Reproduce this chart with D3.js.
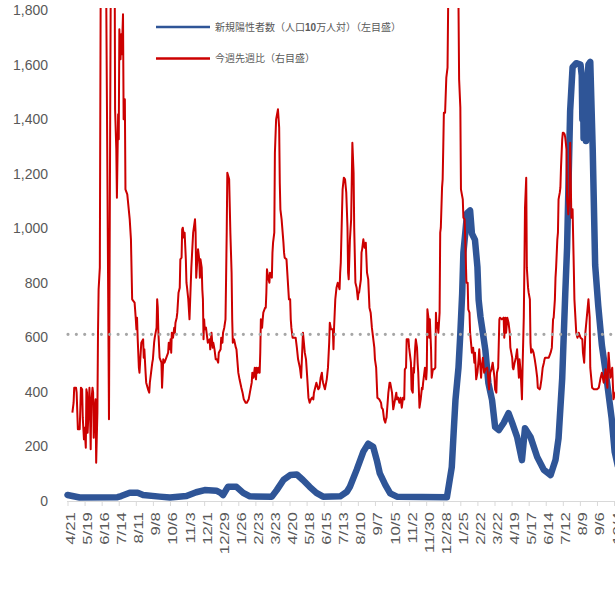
<!DOCTYPE html>
<html>
<head>
<meta charset="utf-8">
<script src="https://cdn.jsdelivr.net/npm/d3@7"></script>
<style>
  body { margin: 0; background: #fff; }
  svg text { fill: #595959; }
</style>
</head>
<body>
<script>

// all series are [days since 2020-04-21, value]
var startDate = new Date(2020, 3, 21);

// 新規陽性者数（人口10万人対） - left axis
var casesSeries = [[0,22],[20,13],[82,14],[88,18],[102,30],[115,30],[124,22],[151,16],[168,13],[195,18],[211,32],[225,40],[244,38],[251,30],[255,22],[263,52],[277,52],[288,30],[299,17],[335,16],[343,40],[354,77],[365,95],[376,97],[386,77],[397,52],[408,30],[419,16],[447,17],[458,34],[463,52],[474,114],[485,181],[493,210],[501,199],[507,150],[512,101],[521,59],[529,28],[540,16],[622,14],[630,125],[633,250],[636,370],[641,490],[644,615],[647,760],[649,910],[652,980],[655,1055],[660,1065],[663,980],[668,957],[672,858],[674,737],[677,675],[681,615],[685,553],[690,432],[696,370],[701,271],[707,260],[715,286],[723,322],[729,286],[737,235],[745,150],[750,267],[759,235],[770,161],[781,114],[792,95],[800,150],[805,230],[811,450],[816,760],[819,930],[824,1430],[828,1590],[834,1605],[841,1600],[843,1560],[844,1400],[845,1560],[846,1330],[847,1540],[848,1340],[849,1520],[850,1320],[851,1480],[852,1330],[853,1560],[854,1600],[857,1610],[861,1290],[865,865],[870,718],[876,572],[884,444],[892,304],[897,180],[902,130]];

// 今週先週比 (%) - right axis
var ratioSeries = [[8,53],[10,59],[11,68],[14,68],[15,65],[17,43],[20,43],[21,55],[22,68],[24,67],[25,50],[27,37],[28,44],[30,32],[31,67],[32,65],[33,41],[34,50],[36,68],[37,53],[38,31],[39,59],[41,68],[42,65],[43,38],[44,53],[46,61],[47,23],[49,53],[50,101],[51,127],[53,140],[56,500],[60,500],[68,49],[73,500],[76,500],[78,235],[80,211],[81,182],[83,232],[84,217],[85,283],[87,265],[88,280],[89,268],[91,292],[92,229],[94,241],[95,187],[98,184],[102,169],[104,157],[106,121],[110,119],[112,109],[113,103],[114,110],[115,98],[117,80],[118,77],[121,95],[124,97],[125,86],[126,91],[128,77],[129,71],[132,67],[134,65],[135,71],[137,77],[139,83],[140,85],[142,95],[143,98],[146,104],[147,121],[148,116],[149,101],[151,86],[152,85],[154,83],[155,68],[157,85],[159,83],[162,86],[165,89],[166,95],[168,91],[169,97],[170,89],[171,101],[173,98],[175,104],[176,101],[177,107],[179,110],[180,113],[182,125],[184,128],[185,145],[187,146],[188,163],[189,164],[191,158],[192,161],[194,145],[195,131],[196,128],[198,121],[199,115],[200,109],[203,140],[206,161],[209,169],[210,161],[211,134],[212,140],[214,151],[216,145],[217,134],[218,145],[220,140],[221,127],[222,121],[223,97],[224,109],[225,103],[227,104],[228,101],[230,95],[233,97],[234,91],[236,101],[238,92],[239,95],[241,91],[243,85],[245,85],[247,83],[248,89],[251,91],[252,98],[254,95],[255,101],[257,104],[259,109],[260,134],[261,161],[262,197],[265,193],[267,161],[269,137],[270,109],[271,95],[273,97],[276,92],[277,91],[280,77],[282,73],[285,68],[287,65],[289,61],[292,59],[294,59],[297,61],[299,65],[302,71],[303,77],[305,74],[307,80],[309,73],[310,80],[312,77],[313,80],[315,77],[316,89],[317,109],[319,104],[320,109],[321,113],[324,116],[325,116],[326,125],[327,139],[329,134],[331,131],[332,137],[335,134],[336,149],[337,155],[339,161],[340,209],[342,229],[344,233],[345,235],[347,224],[348,191],[349,175],[351,169],[354,155],[355,149],[356,146],[359,145],[361,133],[363,121],[365,121],[366,109],[367,104],[369,98],[371,98],[374,98],[376,92],[378,85],[381,80],[383,74],[385,92],[386,101],[389,89],[391,85],[393,74],[395,62],[397,59],[399,61],[401,62],[403,61],[404,65],[406,68],[408,71],[411,67],[413,68],[415,74],[417,77],[418,73],[419,71],[422,67],[425,73],[427,80],[429,95],[430,107],[432,103],[435,103],[436,91],[437,104],[439,121],[441,128],[443,131],[446,127],[447,137],[448,143],[450,173],[451,187],[453,194],[455,193],[457,185],[459,164],[460,137],[461,133],[463,157],[465,169],[467,215],[469,197],[470,164],[472,131],[474,128],[476,121],[477,125],[478,125],[481,133],[482,149],[483,151],[485,157],[487,152],[489,155],[491,137],[493,133],[495,116],[497,113],[499,104],[500,101],[503,92],[504,85],[506,80],[508,62],[511,61],[514,59],[515,56],[517,55],[519,49],[521,47],[522,49],[523,50],[526,65],[528,71],[529,71],[532,65],[534,55],[537,61],[539,65],[540,61],[542,62],[544,59],[546,62],[548,56],[550,62],[552,61],[553,79],[555,80],[556,97],[559,97],[560,92],[563,83],[564,67],[566,65],[567,80],[568,77],[570,92],[571,97],[573,92],[574,83],[575,77],[577,56],[579,61],[581,68],[582,67],[583,71],[586,80],[588,73],[589,79],[590,115],[592,109],[593,98],[594,109],[596,91],[597,74],[599,79],[601,79],[603,80],[604,113],[605,104],[606,107],[608,101],[610,113],[611,161],[612,164],[614,188],[615,193],[616,212],[617,233],[619,233],[621,254],[623,260],[624,296],[626,500],[640,500],[641,296],[642,253],[644,236],[645,187],[648,181],[649,170],[651,169],[652,157],[654,131],[656,131],[657,115],[659,113],[660,101],[663,89],[665,92],[667,83],[668,89],[670,73],[672,77],[674,85],[675,91],[678,74],[679,80],[681,86],[683,77],[685,79],[688,80],[689,77],[691,67],[693,77],[695,79],[697,83],[700,74],[701,67],[703,65],[704,77],[706,80],[708,109],[709,110],[712,109],[715,110],[716,98],[718,110],[719,101],[721,110],[723,107],[725,101],[726,92],[729,86],[730,80],[731,79],[733,83],[735,86],[737,91],[739,80],[740,74],[741,85],[743,77],[745,61],[746,80],[748,110],[749,140],[750,176],[752,194],[753,140],[755,128],[756,125],[758,121],[759,95],[760,89],[762,91],[764,89],[766,85],[768,80],[770,74],[771,68],[774,67],[775,68],[777,73],[779,80],[781,83],[782,85],[783,86],[786,86],[789,86],[792,89],[794,92],[796,109],[797,110],[799,121],[800,134],[801,140],[803,157],[804,161],[805,181],[807,185],[808,188],[809,200],[811,217],[812,221],[813,221],[815,220],[816,218],[818,211],[819,181],[821,172],[823,184],[824,215],[826,170],[828,175],[830,140],[831,121],[834,101],[836,98],[838,101],[841,98],[844,97],[845,89],[847,83],[849,101],[852,113],[854,121],[856,110],[857,80],[860,68],[863,67],[868,67],[871,68],[874,74],[876,77],[879,71],[882,79],[885,68],[887,89],[890,74],[893,80],[895,61],[898,65],[902,67]];

var leftTicks = [0, 200, 400, 600, 800, 1000, 1200, 1400, 1600, 1800];
var xTickStep = 28;   // days between date labels
var xTickCount = 33;
var ratioBase = 100;  // dotted reference line (100%)
var legendLabels = ["新規陽性者数（人口10万人対）（左目盛）", "今週先週比（右目盛）"];

var blue = "#2f5597", red = "#cc0000";
var W = 615, H = 597;

var svg = d3.select("body").append("svg")
  .attr("width", W)
  .attr("height", H)
  .style("font-family", "'Liberation Sans', Arial, sans-serif");

function day(n) { return d3.timeDay.offset(startDate, n); }

var x = d3.scaleTime()
  .domain([startDate, day(910)])
  .range([67.5, 67.5 + 910 * 0.61]);

var yLeft = d3.scaleLinear().domain([0, 1800]).range([501, 10]);
var yRight = d3.scaleLinear().domain([0, 294.6]).range([501, 10]);

svg.append("defs").append("clipPath").attr("id", "plot")
  .append("rect").attr("x", 60).attr("y", 8).attr("width", 600).attr("height", 500);

// left axis labels only
var yAxis = svg.append("g")
  .attr("transform", "translate(67,0)")
  .call(d3.axisLeft(yLeft).tickValues(leftTicks).tickSize(0).tickPadding(19).tickFormat(d3.format(",")));
yAxis.select(".domain").remove();
yAxis.selectAll("text").style("font-size", "14px").style("fill", "#595959");

// x axis
var xTicks = d3.range(xTickCount).map(function(i) { return day(i * xTickStep); });
var xAxis = svg.append("g")
  .attr("transform", "translate(0,501)")
  .call(d3.axisBottom(x).tickValues(xTicks).tickSize(5).tickSizeOuter(0)
    .tickFormat(d3.timeFormat("%-m/%-d")));
xAxis.select(".domain").attr("stroke", "#d9d9d9").attr("d", "M67,0.5H640");
xAxis.selectAll(".tick line").attr("stroke", "#d9d9d9");
xAxis.selectAll(".tick text")
  .attr("transform", "rotate(-90) scale(1.4,1)")
  .attr("text-anchor", "end")
  .attr("x", -8)
  .attr("y", 7)
  .attr("dy", null)
  .style("font-size", "12px")
  .style("fill", "#595959");

var g = svg.append("g").attr("clip-path", "url(#plot)");

var lineLeft = d3.line()
  .x(function(d) { return x(day(d[0])); })
  .y(function(d) { return yLeft(d[1]); });

var lineRight = d3.line()
  .x(function(d) { return x(day(d[0])); })
  .y(function(d) { return yRight(d[1]); });

g.append("path")
  .attr("d", lineLeft(casesSeries))
  .attr("fill", "none")
  .attr("stroke", blue)
  .attr("stroke-width", 6.5)
  .attr("stroke-linejoin", "round")
  .attr("stroke-linecap", "round");

g.append("path")
  .attr("d", lineRight(ratioSeries))
  .attr("fill", "none")
  .attr("stroke", red)
  .attr("stroke-width", 2)
  .attr("stroke-linejoin", "round");

// 100% reference
svg.append("line")
  .attr("x1", 68).attr("x2", 640)
  .attr("y1", yRight(ratioBase)).attr("y2", yRight(ratioBase))
  .attr("stroke", "#a6a6a6")
  .attr("stroke-width", 3.2)
  .attr("stroke-linecap", "round")
  .attr("stroke-dasharray", "0 8.35");

// legend
var legend = svg.append("g");
[blue, red].forEach(function(c, i) {
  var ly = i == 0 ? 27 : 58.5;
  legend.append("line")
    .attr("x1", 156).attr("x2", 210)
    .attr("y1", ly).attr("y2", ly)
    .attr("stroke", c).attr("stroke-width", 2.5);
  var t = legend.append("text")
    .attr("x", 215).attr("y", ly).attr("dy", "0.36em")
    .style("font-family", "'Noto Sans CJK JP', sans-serif")
    .style("font-size", "10px");
  legendLabels[i].split(/(\d+)/).forEach(function(s) {
    if (!s) return;
    t.append("tspan").text(s)
      .style("font-weight", /\d/.test(s) ? "bold" : null)
      .style("font-family", /\d/.test(s) ? "'Liberation Sans', Arial, sans-serif" : null);
  });
});

</script>
</body>
</html>
